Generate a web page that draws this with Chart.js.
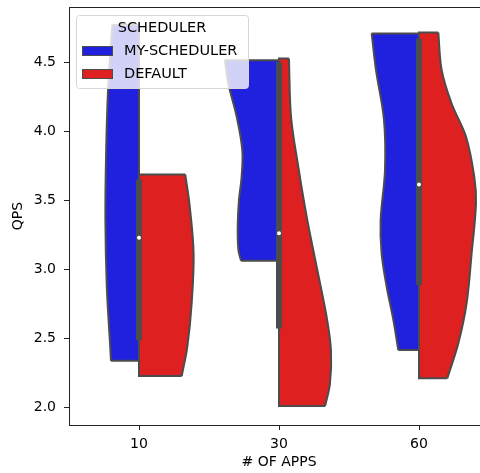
<!DOCTYPE html>
<html>
<head>
<meta charset="utf-8">
<script src="https://cdn.jsdelivr.net/npm/chart.js@4.4.0/dist/chart.umd.min.js"></script>
<style>
  html, body { margin: 0; padding: 0; background: #fff; overflow: hidden; }
  #wrap { width: 500px; height: 473px; }
</style>
</head>
<body>
<div id="wrap"><canvas id="myChart"></canvas></div>
<script>
const groups = ['10', '30', '60'];
const seriesNames = ['MY-SCHEDULER', 'DEFAULT'];
const seriesColors = ['#2020df', '#df2020'];
const yTicks = [2.0, 2.5, 3.0, 3.5, 4.0, 4.5];

// violin outlines: QPS level and half width (category units)
const myQps10 = [2.335, 2.51, 2.87, 3.355, 3.84, 4.32, 4.77];
const myW10 = [0.20, 0.21, 0.23, 0.24, 0.235, 0.22, 0.19];
const defQps10 = [2.225, 2.437, 2.75, 3.114, 3.476, 3.686];
const defW10 = [0.305, 0.345, 0.376, 0.39, 0.36, 0.33];

const myQps30 = [3.06, 3.138, 3.307, 3.5, 3.669, 3.862, 4.104, 4.346, 4.514];
const myW30 = [0.271, 0.29, 0.295, 0.286, 0.267, 0.262, 0.302, 0.362, 0.386];
const defQps30 = [2.007, 2.17, 2.413, 2.655, 3.017, 3.379, 3.74, 4.104, 4.527];
const defW30 = [0.329, 0.364, 0.371, 0.34, 0.269, 0.198, 0.138, 0.086, 0.071];

const myQps60 = [2.413, 2.63, 2.872, 3.114, 3.355, 3.717, 4.08, 4.442, 4.708];
const myW60 = [0.148, 0.183, 0.231, 0.267, 0.274, 0.243, 0.25, 0.307, 0.338];
const defQps60 = [2.208, 2.462, 2.751, 3.114, 3.476, 3.669, 3.959, 4.20, 4.442, 4.715];
const defW60 = [0.202, 0.281, 0.34, 0.376, 0.407, 0.395, 0.336, 0.233, 0.162, 0.138];

// inner box: quartiles and median per group
const boxLow = [2.485, 2.57, 2.884];
const boxMedian = [3.227, 3.26, 3.614];
const boxHigh = [3.65, 4.50, 4.67];

const edge = '#4c4c4c';

const violins = [
  {g: 0, s: 0, qps: myQps10, w: myW10},
  {g: 0, s: 1, qps: defQps10, w: defW10},
  {g: 1, s: 0, qps: myQps30, w: myW30},
  {g: 1, s: 1, qps: defQps30, w: defW30},
  {g: 2, s: 0, qps: myQps60, w: myW60},
  {g: 2, s: 1, qps: defQps60, w: defW60}
];

const datasets = [];
violins.forEach(v => {
  const side = v.s === 0 ? -1 : 1;
  const c = v.g;
  const n = v.qps.length - 1;
  datasets.push({
    data: v.qps.map((q, i) => ({x: c + side * v.w[i], y: q})),
    borderColor: edge,
    borderWidth: 2,
    backgroundColor: seriesColors[v.s],
    fill: {value: c},
    tension: 0.35,
    pointRadius: 0,
    order: 2
  });
  // flat ends and the edge along the centre
  datasets.push({
    data: [
      {x: c + side * v.w[0], y: v.qps[0]},
      {x: c, y: v.qps[0]},
      {x: c, y: v.qps[n]},
      {x: c + side * v.w[n], y: v.qps[n]}
    ],
    borderColor: edge,
    borderWidth: 2,
    borderJoinStyle: 'miter',
    fill: false,
    tension: 0,
    pointRadius: 0,
    order: 1
  });
});

groups.forEach((g, i) => {
  datasets.push({
    data: [{x: i, y: boxLow[i]}, {x: i, y: boxHigh[i]}],
    borderColor: edge,
    borderWidth: 6,
    borderCapStyle: 'butt',
    fill: false,
    pointRadius: 0,
    order: 0
  });
  datasets.push({
    data: [{x: i, y: boxMedian[i]}],
    showLine: false,
    pointRadius: 2,
    pointBackgroundColor: '#ffffff',
    pointBorderWidth: 0,
    order: -1
  });
});

const font = {family: 'DejaVu Sans', size: 14};

// top spine and the legend box drawn over the violins
const frameAndLegend = {
  id: 'frameAndLegend',
  afterDatasetsDraw(chart) {
    const {ctx, chartArea} = chart;
    ctx.save();
    ctx.strokeStyle = '#222';
    ctx.lineWidth = 1;
    ctx.beginPath();
    ctx.moveTo(chartArea.left, chartArea.top + 0.5);
    ctx.lineTo(chartArea.right, chartArea.top + 0.5);
    ctx.stroke();

    const lx = chartArea.left + 7, ly = chartArea.top + 8, lw = 172, lh = 73;
    ctx.beginPath();
    ctx.roundRect(lx + 0.5, ly + 0.5, lw, lh, 3);
    ctx.fillStyle = 'rgba(255,255,255,0.8)';
    ctx.fill();
    ctx.strokeStyle = '#d6d6d6';
    ctx.stroke();

    ctx.font = '14.5px "DejaVu Sans"';
    ctx.fillStyle = '#000';
    ctx.textBaseline = 'middle';
    ctx.textAlign = 'center';
    ctx.fillText('SCHEDULER', lx + 86, ly + 13);
    ctx.textAlign = 'left';
    seriesNames.forEach((name, i) => {
      const cy = ly + 36 + i * 23;
      ctx.fillStyle = seriesColors[i];
      ctx.fillRect(lx + 6, cy - 5, 31, 10);
      ctx.strokeStyle = edge;
      ctx.lineWidth = 1;
      ctx.strokeRect(lx + 6.5, cy - 4.5, 30, 9);
      ctx.fillStyle = '#000';
      ctx.fillText(name, lx + 48, cy);
    });
    ctx.restore();
  }
};

const ctx = document.getElementById('myChart').getContext('2d');
const myChart = new Chart(ctx, {
  type: 'line',
  data: {datasets: datasets},
  options: {
    indexAxis: 'y',
    animation: false,
    responsive: true,
    maintainAspectRatio: false,
    layout: {padding: {top: 7, right: 11, left: 0, bottom: 0}},
    plugins: {legend: {display: false}, tooltip: {enabled: false}},
    scales: {
      x: {
        type: 'linear',
        min: -0.5,
        max: 2.5,
        afterBuildTicks: s => { s.ticks = groups.map((g, i) => ({value: i})); },
        afterFit: s => { s.height = 48; s.paddingLeft = 0; s.paddingRight = 0; },
        ticks: {
          callback: v => groups[v],
          color: '#000',
          font: {family: 'DejaVu Sans', size: 14, lineHeight: 1},
          padding: 7,
          maxRotation: 0,
          autoSkip: false
        },
        grid: {drawOnChartArea: false, drawTicks: true, tickLength: 5, color: '#222'},
        border: {display: true, color: '#222', width: 1},
        title: {display: true, text: '# OF APPS', color: '#000', font: font, padding: {top: 0, bottom: 2}}
      },
      y: {
        type: 'linear',
        min: 1.87,
        max: 4.9,
        afterBuildTicks: s => { s.ticks = yTicks.map(v => ({value: v})); },
        afterFit: s => { s.width = 69; s.paddingTop = 0; s.paddingBottom = 0; },
        ticks: {
          callback: v => Number(v).toFixed(1),
          color: '#000',
          font: {family: 'DejaVu Sans', size: 14, lineHeight: 1},
          padding: 8
        },
        grid: {drawOnChartArea: false, drawTicks: true, tickLength: 5, color: '#222'},
        border: {display: true, color: '#222', width: 1},
        title: {display: true, text: 'QPS', color: '#000', font: font, padding: {top: 10, bottom: 0}}
      }
    }
  },
  plugins: [frameAndLegend]
});
</script>
</body>
</html>
